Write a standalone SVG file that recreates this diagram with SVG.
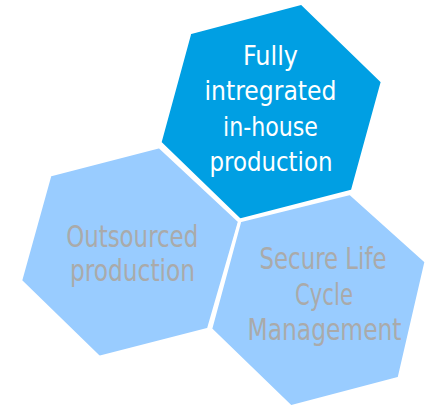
<svg xmlns="http://www.w3.org/2000/svg" width="426" height="408" viewBox="0 0 426 408">
<style>
.hex{stroke:#ffffff;stroke-width:3;stroke-linejoin:miter}
.dark{fill:#009fe3}
.light{fill:#99ccff}
text{font-family:"Ubuntu Condensed","DejaVu Sans",sans-serif;font-stretch:condensed;text-anchor:middle}
.w{fill:#ffffff;font-size:27px}
.g{fill:#aaaaaa;font-size:30px}
</style>
<rect width="426" height="408" fill="#ffffff"/>
<g id="outsourced">
<polygon class="hex light" points="159.3,146.7 239.5,221.5 208.3,329.3 99.3,357.3 20.7,280.7 50,175"/>
<text class="g" x="132.2" y="246.5" textLength="132" lengthAdjust="spacingAndGlyphs">Outsourced</text>
<text class="g" x="132.5" y="280.5" textLength="125" lengthAdjust="spacingAndGlyphs">production</text>
</g>
<g id="secure">
<polygon class="hex light" points="240,220.7 350,193.5 426,261.7 399,378.3 290.7,406.7 210.7,329"/>
<text class="g" x="323" y="269" textLength="127" lengthAdjust="spacingAndGlyphs">Secure Life</text>
<text class="g" x="324" y="305" textLength="58" lengthAdjust="spacingAndGlyphs">Cycle</text>
<text class="g" x="324.5" y="340" textLength="154" lengthAdjust="spacingAndGlyphs">Management</text>
</g>
<g id="inhouse">
<polygon class="hex dark" points="301.7,3.3 382.3,81.7 352.3,191 240,220 160,142.7 190,32.7"/>
<text class="w" x="270.5" y="65" textLength="55" lengthAdjust="spacingAndGlyphs">Fully</text>
<text class="w" x="270.5" y="100" textLength="132" lengthAdjust="spacingAndGlyphs">intregrated</text>
<text class="w" x="270.5" y="135.5" textLength="95" lengthAdjust="spacingAndGlyphs">in-house</text>
<text class="w" x="271" y="171" textLength="123" lengthAdjust="spacingAndGlyphs">production</text>
</g>
<g id="connectors"/>
</svg>
